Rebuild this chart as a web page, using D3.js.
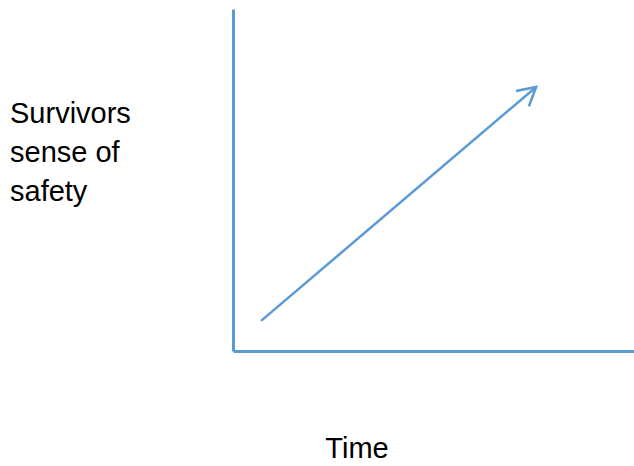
<!DOCTYPE html>
<html lang="en">
<head>
<script src="https://d3js.org/d3.v7.min.js"></script>
<style>
  body { margin: 0; background: #fff; }
  .label { font-family: Arial, "Liberation Sans", sans-serif; font-size: 29px; fill: #000; }
  .axis path { stroke: #5b9bd5; stroke-width: 3px; }
</style>
</head>
<body>
<svg id="chart" width="634" height="466"></svg>
<script>
// values (arbitrary 0-10 units)
const arrowX = [0.7, 7.56];
const arrowY = [0.88, 7.72];
const yLabelLines = ["Survivors", "sense of", "safety"];
const xLabel = "Time";

const svg = d3.select("#chart");
const color = "#5b9bd5";

const x = d3.scaleLinear().domain([0, 10]).range([233, 634]);
const y = d3.scaleLinear().domain([0, 10]).range([351, 9]);

// axes: just the domain lines, no ticks
svg.append("g")
   .attr("class", "axis")
   .attr("transform", `translate(${x(0)},0)`)
   .call(d3.axisLeft(y).ticks(0).tickSizeOuter(0));
svg.append("g")
   .attr("class", "axis")
   .attr("transform", `translate(0,${y(0)})`)
   .call(d3.axisBottom(x).ticks(0).tickSizeOuter(0));

// open arrowhead
svg.append("defs").append("marker")
   .attr("id", "head")
   .attr("markerUnits", "userSpaceOnUse")
   .attr("viewBox", "-22 -12 24 24")
   .attr("refX", 0).attr("refY", 0)
   .attr("markerWidth", 24).attr("markerHeight", 24)
   .attr("orient", "auto")
   .append("path")
   .attr("d", "M-18,-10L0,0L-18,10")
   .attr("fill", "none")
   .attr("stroke", color)
   .attr("stroke-width", 2.5);

const pts = arrowX.map((d, i) => [x(d), y(arrowY[i])]);
svg.append("path")
   .datum(pts)
   .attr("d", d3.line())
   .attr("fill", "none")
   .attr("stroke", color)
   .attr("stroke-width", 2.5)
   .attr("marker-end", "url(#head)");

// labels
svg.append("text")
   .attr("class", "label")
   .attr("x", 10)
   .attr("y", 123)
   .selectAll("tspan")
   .data(yLabelLines)
   .join("tspan")
   .attr("x", 10)
   .attr("dy", (d, i) => i === 0 ? 0 : 39)
   .text(d => d);

svg.append("text")
   .attr("class", "label")
   .attr("x", 357)
   .attr("y", 458)
   .attr("text-anchor", "middle")
   .text(xLabel);
</script>
</body>
</html>
